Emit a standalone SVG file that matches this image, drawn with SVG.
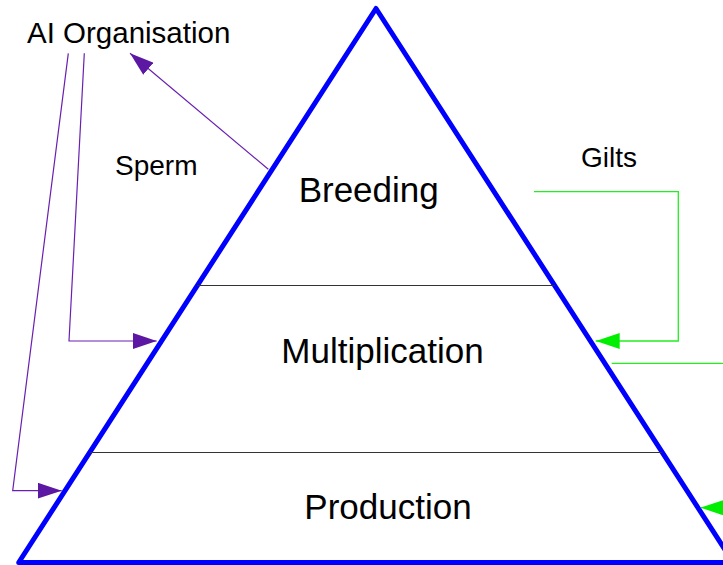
<svg xmlns="http://www.w3.org/2000/svg" width="723" height="565" viewBox="0 0 723 565">
<style>
.big{font-family:"Liberation Sans",Arial,sans-serif;font-size:35px;fill:#000;text-anchor:middle}
.small{font-family:"Liberation Sans",Arial,sans-serif;font-size:28px;fill:#000}
.purple{fill:none;stroke:#6a1fb0;stroke-width:1.2}
.green{fill:none;stroke:#22ee22;stroke-width:1.3}
.div{stroke:#333;stroke-width:1}
</style>
<defs>
<marker id="ap" markerUnits="userSpaceOnUse" markerWidth="24" markerHeight="16" refX="24" refY="8" orient="auto"><path d="M0,0 L24,8 L0,16 z" fill="#5c17a3"/></marker>
<marker id="ag" markerUnits="userSpaceOnUse" markerWidth="24" markerHeight="16" refX="24" refY="8" orient="auto"><path d="M0,0 L24,8 L0,16 z" fill="#00ee00"/></marker>
</defs>
<rect width="723" height="565" fill="#fff"/>
<g id="pyramid">
<polygon points="376,8.5 733.3,562.5 18.7,562.5" fill="none" stroke="#0000ff" stroke-width="5" stroke-linejoin="round"/>
<line class="div" x1="197.2" y1="285.5" x2="554.8" y2="285.5"/>
<line class="div" x1="89.8" y1="452.5" x2="662.2" y2="452.5"/>
</g>
<g id="breeding"><text class="big" x="368.7" y="201.7">Breeding</text></g>
<g id="multiplication"><text class="big" x="382.5" y="363.3">Multiplication</text></g>
<g id="production"><text class="big" x="388" y="519">Production</text></g>
<g id="ai-organisation"><text class="small" x="27" y="42.7" style="font-size:29.5px">AI Organisation</text></g>
<g id="labels">
<text class="small" x="115" y="175">Sperm</text>
<text class="small" x="581" y="167.3">Gilts</text>
</g>
<g id="connectors">
<path class="purple" d="M268.3,169.3 L130,53.3" marker-end="url(#ap)"/>
<path class="purple" d="M84.3,53.3 L69,341 L156.7,341" marker-end="url(#ap)"/>
<path class="purple" d="M68.3,53.3 L12.7,490.7 L61.7,490.7" marker-end="url(#ap)"/>
<path class="green" d="M534,191.7 H678.3 V341 H595.7" marker-end="url(#ag)"/>
<path class="green" d="M611.7,363.3 H760 V507.7 H700.7" marker-end="url(#ag)"/>
</g>
</svg>
